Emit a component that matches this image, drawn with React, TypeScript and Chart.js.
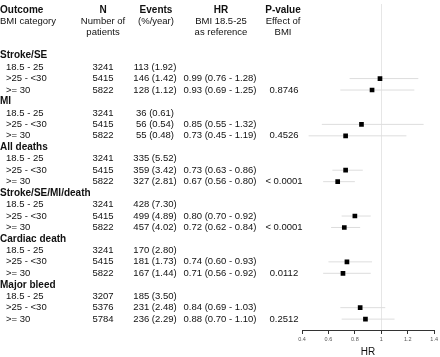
import React, { useEffect, useRef } from 'react';
import { Chart, registerables } from 'chart.js';

Chart.register(...registerables);

const FONT = '"Liberation Sans", Arial, Helvetica, sans-serif';

const outcomes = ['Stroke/SE', 'MI', 'All deaths', 'Stroke/SE/MI/death', 'Cardiac death', 'Major bleed'];
const bmiCategories = ['18.5 - 25', '>25 - <30', '>= 30'];

const nPatients = [
  [3241, 5415, 5822],
  [3241, 5415, 5822],
  [3241, 5415, 5822],
  [3241, 5415, 5822],
  [3241, 5415, 5822],
  [3207, 5376, 5784],
];
const eventCounts = [
  [113, 146, 128],
  [36, 56, 55],
  [335, 359, 327],
  [428, 499, 457],
  [170, 181, 167],
  [185, 231, 236],
];
const eventRates = [
  [1.92, 1.42, 1.12],
  [0.61, 0.54, 0.48],
  [5.52, 3.42, 2.81],
  [7.3, 4.89, 4.02],
  [2.8, 1.73, 1.44],
  [3.5, 2.48, 2.29],
];
const hrValues: (number | null)[][] = [
  [null, 0.99, 0.93],
  [null, 0.85, 0.73],
  [null, 0.73, 0.67],
  [null, 0.8, 0.72],
  [null, 0.74, 0.71],
  [null, 0.84, 0.88],
];
const hrLow: (number | null)[][] = [
  [null, 0.76, 0.69],
  [null, 0.55, 0.45],
  [null, 0.63, 0.56],
  [null, 0.7, 0.62],
  [null, 0.6, 0.56],
  [null, 0.69, 0.7],
];
const hrHigh: (number | null)[][] = [
  [null, 1.28, 1.25],
  [null, 1.32, 1.19],
  [null, 0.86, 0.8],
  [null, 0.92, 0.84],
  [null, 0.93, 0.92],
  [null, 1.03, 1.1],
];
const pValues = ['0.8746', '0.4526', '< 0.0001', '< 0.0001', '0.0112', '0.2512'];

const headerLabel = ['Outcome', 'BMI category'];
const headerN = ['N', 'Number of', 'patients'];
const headerEvents = ['Events', '(%/year)'];
const headerHR = ['HR', 'BMI 18.5-25', 'as reference'];
const headerP = ['P-value', 'Effect of', 'BMI'];

const xTicks = [0.4, 0.6, 0.8, 1, 1.2, 1.4];
const xTickLabels = ['0.4', '0.6', '0.8', '1', '1.2', '1.4'];

const rowOf = (g: number, s: number) => g * 4 + 1 + s;

export default function App() {
  const ref = useRef<HTMLCanvasElement>(null);

  useEffect(() => {
    const canvas = ref.current;
    if (!canvas) return;

    const boxes: { x: number; y: number }[] = [];
    const ciSets: any[] = [];
    outcomes.forEach((_, g) => {
      bmiCategories.forEach((__, s) => {
        const v = hrValues[g][s];
        const lo = hrLow[g][s];
        const hi = hrHigh[g][s];
        if (v == null || lo == null || hi == null) return;
        boxes.push({ x: v, y: rowOf(g, s) });
        ciSets.push({
          type: 'line',
          data: [
            { x: lo, y: rowOf(g, s) },
            { x: hi, y: rowOf(g, s) },
          ],
          borderColor: '#dddddd',
          borderWidth: 1,
          pointRadius: 0,
          showLine: true,
          fill: false,
        });
      });
    });

    const textPlugin = {
      id: 'forestText',
      afterDraw(chart: any) {
        const ctx = chart.ctx;
        const ys = chart.scales.y;
        const py = (r: number) => ys.getPixelForValue(r);
        ctx.save();
        ctx.fillStyle = '#111';
        ctx.textBaseline = 'middle';
        const bold = `bold 10px ${FONT}`;
        const norm = `9.5px ${FONT}`;
        const put = (t: string, x: number, r: number, align: CanvasTextAlign, b: boolean) => {
          ctx.font = b ? bold : norm;
          ctx.textAlign = align;
          ctx.fillText(t, x, py(r));
        };
        const hdrRows = [-4, -3, -2];
        headerLabel.forEach((t, i) => put(t, 0, hdrRows[i], 'left', i === 0));
        headerN.forEach((t, i) => put(t, 103, hdrRows[i], 'center', i === 0));
        headerEvents.forEach((t, i) => put(t, 156, hdrRows[i], 'center', i === 0));
        headerHR.forEach((t, i) => put(t, 221, hdrRows[i], 'center', i === 0));
        headerP.forEach((t, i) => put(t, 283, hdrRows[i], 'center', i === 0));

        outcomes.forEach((o, g) => {
          put(o, 0, g * 4, 'left', true);
          bmiCategories.forEach((c, s) => {
            const r = rowOf(g, s);
            put(c, 6, r, 'left', false);
            put(String(nPatients[g][s]), 103, r, 'center', false);
            put(`${eventCounts[g][s]} (${eventRates[g][s].toFixed(2)})`, 155, r, 'center', false);
            const v = hrValues[g][s];
            const lo = hrLow[g][s];
            const hi = hrHigh[g][s];
            if (v != null && lo != null && hi != null) {
              put(`${v.toFixed(2)} (${lo.toFixed(2)} - ${hi.toFixed(2)})`, 220, r, 'center', false);
            }
            if (s === 2) put(pValues[g], 284, r, 'center', false);
          });
        });
        ctx.restore();
      },
    };

    const chart = new Chart(canvas, {
      type: 'scatter',
      data: {
        datasets: [
          {
            type: 'scatter',
            data: boxes,
            pointStyle: 'rect',
            pointRadius: 3.3,
            pointBackgroundColor: '#000',
            pointBorderWidth: 0,
            backgroundColor: '#000',
            borderWidth: 0,
          } as any,
          ...ciSets,
        ],
      },
      options: {
        responsive: false,
        animation: false,
        events: [],
        layout: { padding: { left: 302, right: 4, top: 0, bottom: 0 } },
        plugins: { legend: { display: false }, tooltip: { enabled: false } },
        scales: {
          x: {
            type: 'linear',
            position: 'bottom',
            min: 0.4,
            max: 1.4,
            afterBuildTicks: (s: any) => {
              s.ticks = xTicks.map((v) => ({ value: v }));
            },
            afterFit: (s: any) => {
              s.height = 27;
            },
            ticks: {
              font: { size: 5.5, family: FONT },
              color: '#555',
              padding: 2,
              maxRotation: 0,
              autoSkip: false,
              callback: (_v: any, i: number) => xTickLabels[i],
            },
            grid: {
              display: true,
              drawOnChartArea: true,
              color: (c: any) => (c.tick && Math.abs(c.tick.value - 1) < 1e-6 ? '#e6e6e6' : 'rgba(0,0,0,0)'),
              tickColor: '#333',
              tickLength: 4,
              lineWidth: 1,
            },
            border: { display: true, color: '#333', width: 1 },
            title: {
              display: true,
              text: 'HR',
              color: '#111',
              font: { size: 10, family: FONT, lineHeight: 1 },
              padding: { top: 2, bottom: 0 },
            },
          },
          y: {
            type: 'linear',
            display: false,
            min: -4.51,
            max: 23.95,
            reverse: true,
          },
        },
      } as any,
      plugins: [textPlugin],
    });

    return () => chart.destroy();
  }, []);

  return (
    <canvas
      ref={ref}
      width={440}
      height={357}
      style={{ position: 'absolute', left: 0, top: 0, width: 440, height: 357, display: 'block' }}
    />
  );
}
